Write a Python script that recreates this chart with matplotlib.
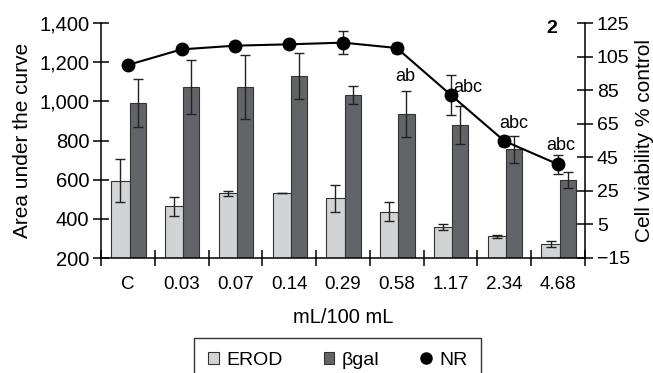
import matplotlib
matplotlib.use("Agg")
import matplotlib.pyplot as plt
import numpy as np
from matplotlib.patches import Patch
from matplotlib.lines import Line2D

plt.rcParams['font.family'] = ['Liberation Sans', 'DejaVu Sans']

categories = ["C", "0.03", "0.07", "0.14", "0.29", "0.58", "1.17", "2.34", "4.68"]
erod = [595, 464, 530, 532, 505, 437, 358, 311, 271]
erod_err = [110, 50, 14, 0, 68, 49, 17, 7, 14]
bgal = [990, 1073, 1073, 1128, 1032, 935, 879, 755, 600]
bgal_err = [122, 138, 165, 117, 48, 118, 96, 70, 40]
nr = [100, 109.3, 111.5, 112.3, 113.3, 110.1, 82.3, 54.7, 40.8]
nr_err = [0, 0, 0, 0, 7, 3, 12, 3, 5.6]
annotations = [("ab", 5.15, 93), ("abc", 6.32, 86.3), ("abc", 7.18, 65.4), ("abc", 8.05, 52.1)]

fig = plt.figure(figsize=(6.53, 3.73), dpi=100)
ax = fig.add_axes([101/653, 1-258/373, (585-101)/653, (258-23)/373])
x = np.arange(len(categories))

light = "#d2d3d5"
dark = "#636467"
ax.bar(x - 0.14, erod, width=0.34, color=light, edgecolor="#333333", linewidth=0.8, zorder=2)
ax.bar(x + 0.18, bgal, width=0.30, color=dark, edgecolor="#333333", linewidth=0.8, zorder=2)
ax.errorbar(x - 0.14, erod, yerr=erod_err, fmt='none', ecolor="#222222", elinewidth=1, capsize=3.5, capthick=1, zorder=3)
ax.errorbar(x + 0.18, bgal, yerr=bgal_err, fmt='none', ecolor="#222222", elinewidth=1, capsize=3.5, capthick=1, zorder=3)

ax.set_xlim(-0.5, len(categories) - 0.5)
ax.set_ylim(200, 1400)
ax.set_yticks(np.arange(200, 1401, 200))
ax.set_yticklabels([f"{v:,}" for v in range(200, 1401, 200)])
ax.set_xticks(np.arange(-0.5, len(categories), 1.0))
ax.set_xticklabels([])
ax.set_xticks(x, minor=True)
ax.set_xticklabels(categories, minor=True)
ax.tick_params(axis='x', which='minor', length=0, labelsize=13.5, pad=13)
ax.tick_params(axis='x', which='major', direction='inout', length=11, width=1.1)
ax.tick_params(axis='y', direction='inout', length=11, width=1.1, labelsize=14.5, pad=3)
for s in ['top', 'right']:
    ax.spines[s].set_visible(False)
for s in ['left', 'bottom']:
    ax.spines[s].set_linewidth(1.1)
ax.set_ylabel("Area under the curve", fontsize=15, labelpad=5)
ax.set_xlabel("mL/100 mL", fontsize=14.5, labelpad=11)

ax2 = ax.twinx()
ax2.set_ylim(-15, 125)
ax2.set_yticks(np.arange(-15, 126, 20))
ax2.set_yticklabels(["\u221215"] + [str(v) for v in range(5, 126, 20)])
ax2.errorbar(x, nr, yerr=nr_err, fmt='-o', color="black", markersize=9, linewidth=1.5,
             ecolor="#222222", elinewidth=1, capsize=3.5, capthick=1, zorder=4)
for s in ['top', 'left', 'bottom']:
    ax2.spines[s].set_visible(False)
ax2.spines['right'].set_linewidth(1.1)
ax2.tick_params(axis='y', direction='inout', length=11, width=1.1, labelsize=14, pad=3)
ax2.set_ylabel("Cell viability % control", fontsize=15, labelpad=4)
for txt, xx, yy in annotations:
    ax2.text(xx, yy, txt, ha='center', va='center', fontsize=13)
ax2.text(7.88, 122, "2", fontsize=14, fontweight='bold', ha='center', va='center')

handles = [Patch(facecolor=light, edgecolor="#333333", linewidth=0.8),
           Patch(facecolor=dark, edgecolor="#333333", linewidth=0.8),
           Line2D([], [], color='black', marker='o', linestyle='none', markersize=8)]
leg = fig.legend(handles, ["EROD", "\u03b2gal", "NR"], loc='upper center',
                 bbox_to_anchor=(337.5/653, 1-338/373), ncol=3, frameon=True, fancybox=False,
                 fontsize=14, handlelength=0.55, handleheight=0.55, handletextpad=0.4,
                 columnspacing=2.1, borderpad=0.7, borderaxespad=0, edgecolor='black')
leg.get_frame().set_linewidth(1.0)

fig.savefig("out.png", dpi=100)
